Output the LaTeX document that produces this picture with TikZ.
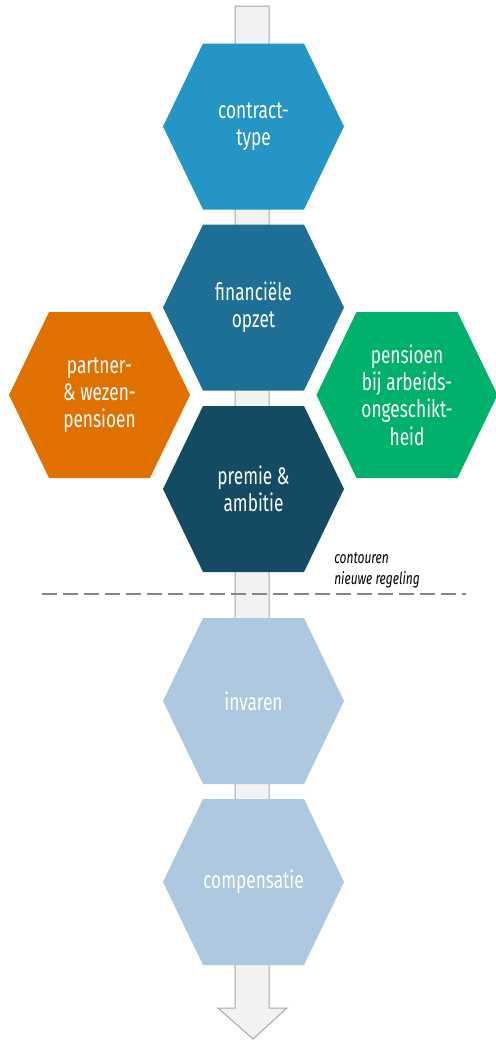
\documentclass[tikz,border=0pt]{standalone}
\usepackage{fontspec}
\setmainfont[FakeStretch=0.72]{Fira Sans}
\usetikzlibrary{positioning}

\definecolor{hexcontract}{HTML}{2595C5}
\definecolor{hexopzet}{HTML}{1D6F95}
\definecolor{hexpremie}{HTML}{144A62}
\definecolor{hexpartner}{HTML}{E07000}
\definecolor{hexaov}{HTML}{00B16C}
\definecolor{hexlater}{HTML}{ADC8DF}
\definecolor{shaftfill}{HTML}{F2F2F2}
\definecolor{shaftline}{HTML}{A8A8A8}

\tikzset{hexnode/.style = {shape = rectangle,
                           minimum width = 135.75pt,
                           minimum height = 124.5pt,
                           inner sep = 0pt,
                           align = center,
                           text = white,
                           font = \fontsize{18}{20.5}\selectfont,
                           path picture = {\fill[#1]
                             (path picture bounding box.west)
                             -- ([xshift=30pt]path picture bounding box.north west)
                             -- ([xshift=-30pt]path picture bounding box.north east)
                             -- (path picture bounding box.east)
                             -- ([xshift=-30pt]path picture bounding box.south east)
                             -- ([xshift=30pt]path picture bounding box.south west)
                             -- cycle;}}}

\begin{document}
\begin{tikzpicture}[x=0.75pt, y=-0.75pt]
		\useasboundingbox (0,0) rectangle (496,1040);
		% shaft with arrow head
		\filldraw[fill=shaftfill, draw=shaftline, line width=0.75pt]
			(235,6) -- (269,6) -- (269,1008) -- (287,1008) -- (253,1039)
			-- (218,1008) -- (235,1008) -- cycle;
		\node[hexnode=hexcontract] (contract) at (253.5,126.5) {contract-\\type};
		\node[hexnode=hexopzet] (opzet) at (253.5,307.5) {financiële\\opzet};
		\node[hexnode=hexpremie] (premie) at (253.5,489) {premie \&\\ambitie};
		\node[hexnode=hexpartner] (partner) at (99.5,395) {partner-\\\& wezen-\\pensioen};
		\node[hexnode=hexaov] (aov) at (407,395) {pensioen\\bij arbeids-\\ongeschikt-\\heid};
		\node[hexnode=hexlater] (invaren) at (253.5,701) {invaren};
		\node[hexnode=hexlater] (compensatie) at (253.5,882) {compensatie};
		% boundary of the new scheme
		\coordinate (lineleft) at (42,594);
		\coordinate (lineright) at (466,594);
		\draw[color=gray!95, line width=1.5pt, dash pattern=on 11.25pt off 4.5pt] (lineleft) -- (lineright);
		\node[anchor=south west, inner sep=0pt, align=left, font=\fontsize{12.5}{15.5}\selectfont\itshape]
			(contouren) at (334,588) {contouren\\nieuwe regeling};
	\end{tikzpicture}
\end{document}
